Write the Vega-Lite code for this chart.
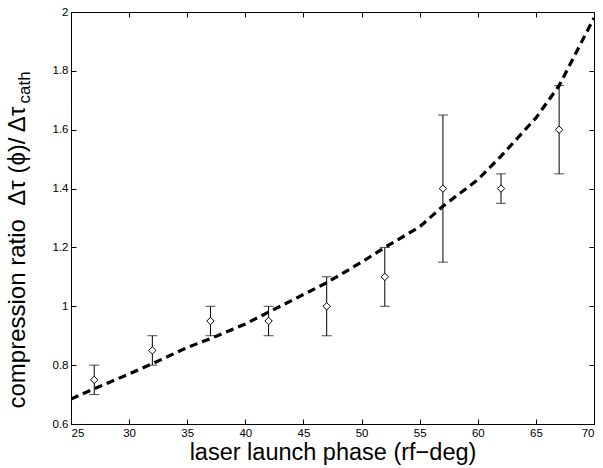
{
  "$schema": "https://vega.github.io/schema/vega-lite/v6.json",
  "width": 523,
  "height": 412,
  "autosize": {"type": "none"},
  "padding": {"left": 71, "top": 12, "right": 9, "bottom": 44},
  "background": "white",
  "config": {
    "view": {"stroke": null},
    "font": "Liberation Sans",
    "axis": {
      "grid": false,
      "domainColor": "black",
      "tickColor": "black",
      "labelColor": "black",
      "titleColor": "black",
      "labelFont": "Liberation Sans",
      "titleFont": "Liberation Sans",
      "labelFontSize": 11.5,
      "titleFontSize": 23.5,
      "titleFontWeight": "normal"
    }
  },
  "datasets": {
    "curve": [
      {"phase": 25, "ratio": 0.685},
      {"phase": 27, "ratio": 0.72},
      {"phase": 30, "ratio": 0.77},
      {"phase": 32, "ratio": 0.805},
      {"phase": 35, "ratio": 0.86},
      {"phase": 37, "ratio": 0.89},
      {"phase": 40, "ratio": 0.94},
      {"phase": 42, "ratio": 0.98},
      {"phase": 45, "ratio": 1.04},
      {"phase": 47, "ratio": 1.08},
      {"phase": 50, "ratio": 1.15},
      {"phase": 52, "ratio": 1.2},
      {"phase": 55, "ratio": 1.27},
      {"phase": 57, "ratio": 1.34},
      {"phase": 60, "ratio": 1.43},
      {"phase": 62, "ratio": 1.51},
      {"phase": 65, "ratio": 1.64},
      {"phase": 67, "ratio": 1.75},
      {"phase": 70, "ratio": 1.98}
    ],
    "points": [
      {"phase": 27, "ratio": 0.75, "lo": 0.7, "hi": 0.8},
      {"phase": 32, "ratio": 0.85, "lo": 0.8, "hi": 0.9},
      {"phase": 37, "ratio": 0.95, "lo": 0.9, "hi": 1.0},
      {"phase": 42, "ratio": 0.95, "lo": 0.9, "hi": 1.0},
      {"phase": 47, "ratio": 1.0, "lo": 0.9, "hi": 1.1},
      {"phase": 52, "ratio": 1.1, "lo": 1.0, "hi": 1.2},
      {"phase": 57, "ratio": 1.4, "lo": 1.15, "hi": 1.65},
      {"phase": 62, "ratio": 1.4, "lo": 1.35, "hi": 1.45},
      {"phase": 67, "ratio": 1.6, "lo": 1.45, "hi": 1.75}
    ]
  },
  "layer": [
    {
      "data": {"name": "curve"},
      "mark": {"type": "line", "color": "black", "strokeWidth": 3.2, "strokeDash": [8, 5], "strokeCap": "butt", "clip": true},
      "encoding": {
        "x": {"field": "phase", "type": "quantitative", "scale": {"domain": [25, 70], "nice": false, "zero": false},
          "axis": {"orient": "bottom", "values": [25, 30, 35, 40, 45, 50, 55, 60, 65, 70], "tickSize": -5, "labelPadding": 8,
            "title": "laser launch phase (rf\u2212deg)", "titlePadding": 2}},
        "y": {"field": "ratio", "type": "quantitative", "scale": {"domain": [0.6, 2], "nice": false, "zero": false},
          "axis": {"orient": "left", "values": [0.6, 0.8, 1, 1.2, 1.4, 1.6, 1.8, 2], "format": "~g", "tickSize": -5, "labelPadding": 8,
            "title": "compression ratio \u00a0\u0394\u03c4 (\u03d5)/ \u0394\u03c4", "titleFontSize": 24, "titleAngle": -90, "titleAlign": "left", "titleBaseline": "alphabetic",
            "titleX": -47, "titleY": 396}}
      }
    },
    {
      "data": {"name": "points"},
      "mark": {"type": "rule", "color": "black", "strokeWidth": 1},
      "encoding": {
        "x": {"field": "phase", "type": "quantitative", "axis": {"orient": "top", "values": [25, 30, 35, 40, 45, 50, 55, 60, 65, 70], "tickSize": -5, "labels": false, "title": null}},
        "y": {"field": "lo", "type": "quantitative", "axis": {"orient": "right", "values": [0.6, 0.8, 1, 1.2, 1.4, 1.6, 1.8, 2], "tickSize": -5, "labels": false,
          "title": "cath", "titleFontSize": 17, "titleAngle": -90, "titleAlign": "left", "titleBaseline": "alphabetic", "titleX": -565, "titleY": 91}},
        "y2": {"field": "hi"}
      }
    },
    {
      "data": {"name": "points"},
      "mark": {"type": "tick", "orient": "horizontal", "color": "black", "size": 10, "thickness": 1},
      "encoding": {
        "x": {"field": "phase", "type": "quantitative", "axis": null},
        "y": {"field": "lo", "type": "quantitative", "axis": null}
      }
    },
    {
      "data": {"name": "points"},
      "mark": {"type": "tick", "orient": "horizontal", "color": "black", "size": 10, "thickness": 1},
      "encoding": {
        "x": {"field": "phase", "type": "quantitative", "axis": null},
        "y": {"field": "hi", "type": "quantitative", "axis": null}
      }
    },
    {
      "data": {"name": "points"},
      "mark": {"type": "point", "shape": "diamond", "filled": false, "color": "black", "size": 55, "strokeWidth": 1, "fill": "white", "fillOpacity": 1},
      "encoding": {
        "x": {"field": "phase", "type": "quantitative", "axis": null},
        "y": {"field": "ratio", "type": "quantitative", "axis": null}
      }
    }
  ],
  "resolve": {"axis": {"x": "independent", "y": "independent"}}
}
